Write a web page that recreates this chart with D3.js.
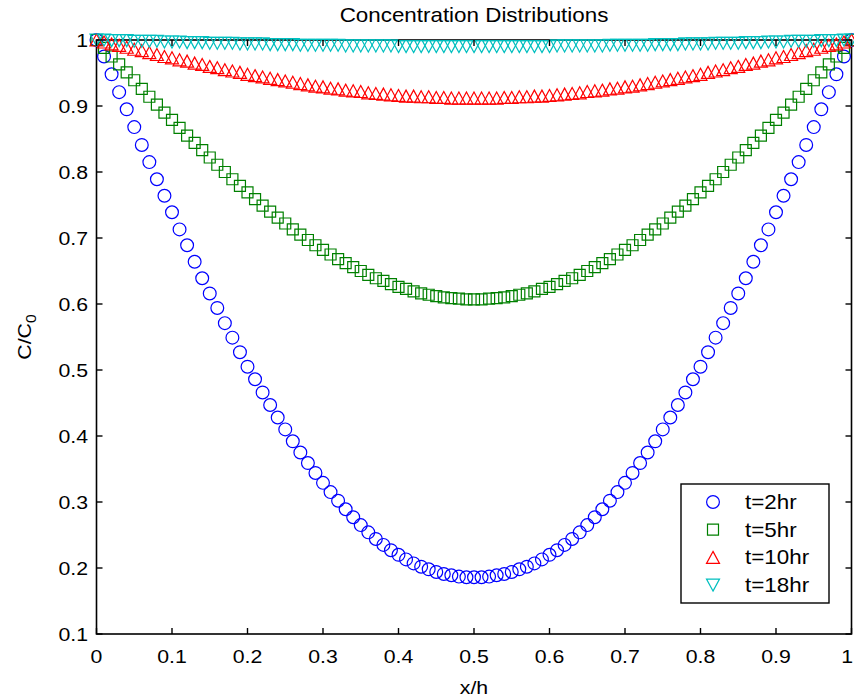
<!DOCTYPE html>
<html>
<head>
<meta charset="utf-8">
<script src="https://cdn.jsdelivr.net/npm/d3@7/dist/d3.min.js"></script>
<style>
  html, body { margin: 0; padding: 0; background: #fff; }
  svg { display: block; }
  text { font-family: "Liberation Sans", Arial, Helvetica, sans-serif; fill: #000; }
</style>
</head>
<body>
<svg id="chart" width="854" height="698"></svg>
<script>
// ---------------- data ----------------
const xValues = [0.00,0.01,0.02,0.03,0.04,0.05,0.06,0.07,0.08,0.09,
  0.10,0.11,0.12,0.13,0.14,0.15,0.16,0.17,0.18,0.19,
  0.20,0.21,0.22,0.23,0.24,0.25,0.26,0.27,0.28,0.29,
  0.30,0.31,0.32,0.33,0.34,0.35,0.36,0.37,0.38,0.39,
  0.40,0.41,0.42,0.43,0.44,0.45,0.46,0.47,0.48,0.49,
  0.50,0.51,0.52,0.53,0.54,0.55,0.56,0.57,0.58,0.59,
  0.60,0.61,0.62,0.63,0.64,0.65,0.66,0.67,0.68,0.69,
  0.70,0.71,0.72,0.73,0.74,0.75,0.76,0.77,0.78,0.79,
  0.80,0.81,0.82,0.83,0.84,0.85,0.86,0.87,0.88,0.89,
  0.90,0.91,0.92,0.93,0.94,0.95,0.96,0.97,0.98,0.99,1.00];

const t2hr = [1.000,0.975,0.948,0.921,0.895,0.868,0.841,0.815,0.789,0.764,
  0.739,0.713,0.689,0.664,0.639,0.616,0.594,0.571,0.549,0.527,
  0.505,0.486,0.466,0.447,0.428,0.410,0.392,0.375,0.359,0.344,
  0.329,0.315,0.302,0.289,0.277,0.265,0.254,0.244,0.235,0.227,
  0.220,0.213,0.207,0.202,0.198,0.194,0.191,0.189,0.187,0.186,
  0.186,
  0.186,0.187,0.189,0.191,0.194,0.198,0.202,0.207,0.213,0.220,
  0.227,0.235,0.244,0.254,0.265,0.277,0.289,0.302,0.315,0.329,
  0.344,0.359,0.375,0.392,0.410,0.428,0.447,0.466,0.486,0.505,
  0.527,0.549,0.571,0.594,0.616,0.639,0.664,0.689,0.713,0.739,
  0.764,0.789,0.815,0.841,0.868,0.895,0.921,0.948,0.975,1.000];

const t5hr = [1.000,0.988,0.975,0.963,0.951,0.939,0.926,0.914,0.902,0.890,
  0.879,0.867,0.855,0.844,0.833,0.822,0.811,0.800,0.789,0.779,
  0.769,0.759,0.749,0.740,0.731,0.722,0.713,0.705,0.697,0.689,
  0.682,0.675,0.668,0.662,0.656,0.650,0.644,0.639,0.635,0.630,
  0.626,0.623,0.619,0.616,0.614,0.612,0.610,0.609,0.608,0.607,
  0.607,
  0.607,0.608,0.609,0.610,0.612,0.614,0.616,0.619,0.623,0.626,
  0.630,0.635,0.639,0.644,0.650,0.656,0.662,0.668,0.675,0.682,
  0.689,0.697,0.705,0.713,0.722,0.731,0.740,0.749,0.759,0.769,
  0.779,0.789,0.800,0.811,0.822,0.833,0.844,0.855,0.867,0.879,
  0.890,0.902,0.914,0.926,0.939,0.951,0.963,0.975,0.988,1.000];

const t10hr = [1.000,0.997,0.994,0.992,0.989,0.986,0.984,0.981,0.978,0.975,
  0.973,0.970,0.968,0.965,0.963,0.960,0.958,0.955,0.953,0.951,
  0.948,0.946,0.944,0.942,0.940,0.938,0.936,0.934,0.932,0.930,
  0.929,0.927,0.926,0.924,0.923,0.922,0.920,0.919,0.918,0.917,
  0.916,0.915,0.915,0.914,0.914,0.913,0.913,0.912,0.912,0.912,
  0.912,
  0.912,0.912,0.912,0.913,0.913,0.914,0.914,0.915,0.915,0.916,
  0.917,0.918,0.919,0.920,0.922,0.923,0.924,0.926,0.927,0.929,
  0.930,0.932,0.934,0.936,0.938,0.940,0.942,0.944,0.946,0.948,
  0.951,0.953,0.955,0.958,0.960,0.963,0.965,0.968,0.970,0.973,
  0.975,0.978,0.981,0.984,0.986,0.989,0.992,0.994,0.997,1.000];

const t18hr = [1.000,1.000,0.999,0.999,0.999,0.998,0.998,0.998,0.998,0.997,
  0.997,0.997,0.996,0.996,0.996,0.995,0.995,0.995,0.995,0.994,
  0.994,0.994,0.994,0.993,0.993,0.993,0.993,0.992,0.992,0.992,
  0.992,0.992,0.992,0.991,0.991,0.991,0.991,0.991,0.991,0.991,
  0.990,0.990,0.990,0.990,0.990,0.990,0.990,0.990,0.990,0.990,
  0.990,
  0.990,0.990,0.990,0.990,0.990,0.990,0.990,0.990,0.990,0.990,
  0.991,0.991,0.991,0.991,0.991,0.991,0.991,0.992,0.992,0.992,
  0.992,0.992,0.992,0.993,0.993,0.993,0.993,0.994,0.994,0.994,
  0.994,0.995,0.995,0.995,0.995,0.996,0.996,0.996,0.997,0.997,
  0.997,0.998,0.998,0.998,0.998,0.999,0.999,0.999,1.000,1.000];

const seriesNames = ["t=2hr", "t=5hr", "t=10hr", "t=18hr"];
const xTicks = [0,0.1,0.2,0.3,0.4,0.5,0.6,0.7,0.8,0.9,1];
const xTickLabels = ["0","0.1","0.2","0.3","0.4","0.5","0.6","0.7","0.8","0.9","1"];
const yTicks = [0.1,0.2,0.3,0.4,0.5,0.6,0.7,0.8,0.9,1];
const yTickLabels = ["0.1","0.2","0.3","0.4","0.5","0.6","0.7","0.8","0.9","1"];

// ---------------- styles ----------------
const colors = ["#0000ff", "#008000", "#ff0000", "#00bfbf"];
const markers = ["circle", "square", "up", "down"];
const SX = 1.12; // horizontal text stretch

// ---------------- layout ----------------
const svg = d3.select("#chart");
const L = 96.5, R = 851.5, T = 40, B = 634;
const x = d3.scaleLinear().domain([0, 1]).range([L, R]);
const y = d3.scaleLinear().domain([0.1, 1]).range([B, T]);

function markerPath(kind) {
  if (kind === "square") return "M-5.5,-5.5H5.5V5.5H-5.5Z";
  if (kind === "up") return "M0,-6L6.5,6H-6.5Z";
  return "M0,6L6.5,-6H-6.5Z";
}
function drawMarker(g, kind, color) {
  if (kind === "circle") {
    return g.append("circle").attr("r", 6.4).attr("fill", "none")
      .attr("stroke", color).attr("stroke-width", 1.2);
  }
  return g.append("path").attr("d", markerPath(kind)).attr("fill", "none")
    .attr("stroke", color).attr("stroke-width", 1.2);
}

function stretchedText(parent, tx, ty, str, anchor, size) {
  return parent.append("text")
    .attr("transform", `translate(${tx},${ty}) scale(${SX},1)`)
    .attr("text-anchor", anchor)
    .attr("font-size", size)
    .text(str);
}

// axes box
svg.append("rect").attr("x", L).attr("y", T).attr("width", R - L).attr("height", B - T)
  .attr("fill", "none").attr("stroke", "#000").attr("stroke-width", 1.6);

// data
const allSeries = [t2hr, t5hr, t10hr, t18hr];
allSeries.forEach((vals, si) => {
  const g = svg.append("g");
  vals.forEach((v, i) => {
    const mg = g.append("g").attr("transform", `translate(${x(xValues[i])},${y(v)})`);
    drawMarker(mg, markers[si], colors[si]);
  });
});

// ticks (inward)
const tk = 6;
const tickG = svg.append("g").attr("stroke", "#000").attr("stroke-width", 1.4);
xTicks.forEach(t => {
  tickG.append("line").attr("x1", x(t)).attr("x2", x(t)).attr("y1", B).attr("y2", B - tk);
  tickG.append("line").attr("x1", x(t)).attr("x2", x(t)).attr("y1", T).attr("y2", T + tk);
});
yTicks.forEach(t => {
  tickG.append("line").attr("x1", L).attr("x2", L + tk).attr("y1", y(t)).attr("y2", y(t));
  tickG.append("line").attr("x1", R).attr("x2", R - tk).attr("y1", y(t)).attr("y2", y(t));
});

// tick labels
xTicks.forEach((t, i) => {
  const last = i === xTicks.length - 1;
  stretchedText(svg, last ? 853 : x(t), 663, xTickLabels[i], last ? "end" : "middle", 19);
});
yTicks.forEach((t, i) => {
  stretchedText(svg, 88, y(t) + 7, yTickLabels[i], "end", 19);
});

// title and axis labels
stretchedText(svg, (L + R) / 2, 22, "Concentration Distributions", "middle", 20);
stretchedText(svg, (L + R) / 2, 694, "x/h", "middle", 19);

const yl = svg.append("text")
  .attr("transform", `translate(31,337) rotate(-90) scale(${SX},1)`)
  .attr("text-anchor", "middle").attr("font-size", 19);
yl.append("tspan").text("C/C");
yl.append("tspan").attr("font-size", 14).attr("dy", 5).text("0");

// legend
const lg = svg.append("g");
lg.append("rect").attr("x", 681).attr("y", 484).attr("width", 148).attr("height", 119)
  .attr("fill", "#fff").attr("stroke", "#000").attr("stroke-width", 1.4);
seriesNames.forEach((name, i) => {
  const cy = 502 + i * 27.7;
  const mg = lg.append("g").attr("transform", `translate(713,${cy})`);
  drawMarker(mg, markers[i], colors[i]);
  stretchedText(lg, 745, cy + 7, name, "start", 20);
});
</script>
</body>
</html>
